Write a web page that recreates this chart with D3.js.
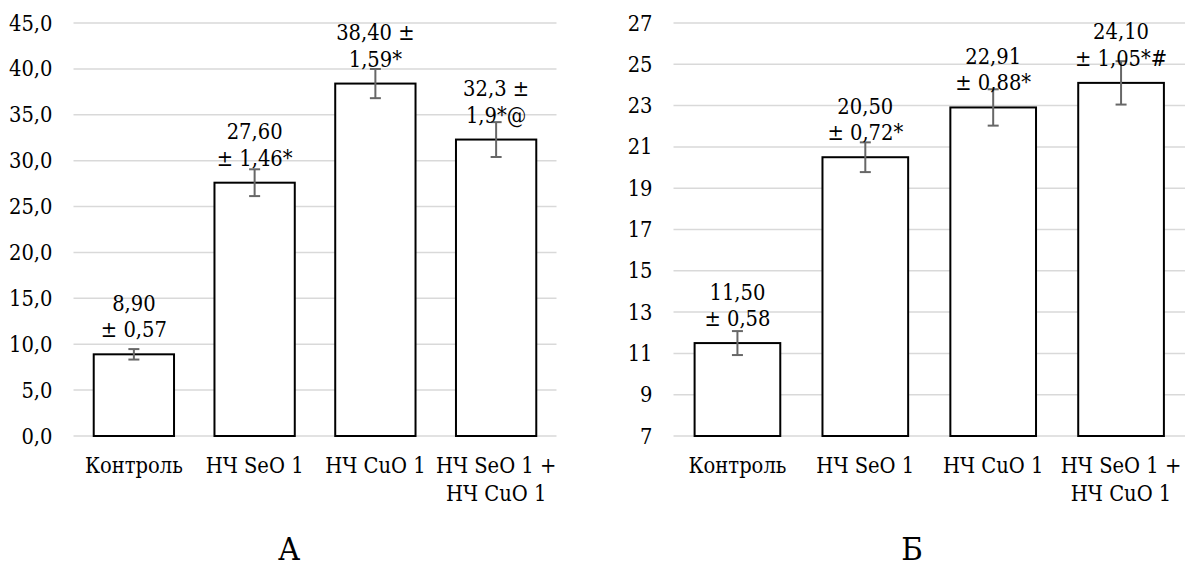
<!DOCTYPE html>
<html>
<head>
<meta charset="utf-8">
<script src="https://cdn.jsdelivr.net/npm/d3@7/dist/d3.min.js"></script>
<style>
html,body{margin:0;padding:0;background:#fff;}
svg{display:block;}
</style>
</head>
<body>
<svg id="chart" width="1187" height="567"></svg>
<script>
// ---- data ----
const categories = [["Контроль"], ["НЧ SeO 1"], ["НЧ CuO 1"], ["НЧ SeO 1 +", "НЧ CuO 1"]];
const valuesA = [8.90, 27.60, 38.40, 32.3];
const errorsA = [0.57, 1.46, 1.59, 1.9];
const labelsA = [["8,90", "± 0,57"], ["27,60", "± 1,46*"], ["38,40 ±", "1,59*"], ["32,3 ±", "1,9*@"]];
const ticksA = [0, 5, 10, 15, 20, 25, 30, 35, 40, 45];
const valuesB = [11.50, 20.50, 22.91, 24.10];
const errorsB = [0.58, 0.72, 0.88, 1.05];
const labelsB = [["11,50", "± 0,58"], ["20,50", "± 0,72*"], ["22,91", "± 0,88*"], ["24,10", "± 1,05*#"]];
const ticksB = [7, 9, 11, 13, 15, 17, 19, 21, 23, 25, 27];
const panelTitles = ["А", "Б"];

const FONT = "'DejaVu Serif', serif";
const svg = d3.select("#chart");
const locale = d3.formatLocale({decimal: ",", thousands: " ", grouping: [3], currency: ["", ""]});

function txt(g) {
  return g.append("text").style("font-family", FONT).style("font-stretch", "condensed").attr("fill", "#000");
}

// fit font size so that "Контроль" measures ~98px like the reference
const probe = txt(svg).style("font-size", "100px").text("Контроль");
const probeW = probe.node().getComputedTextLength();
probe.remove();
const FS = Math.min(24, 98 / probeW * 100);

function panel(cfg) {
  const g = svg.append("g");
  const x = d3.scaleBand().domain(d3.range(categories.length))
    .range([cfg.x0, cfg.x1]).paddingInner(cfg.pad).paddingOuter(cfg.pad / 2);
  const y = d3.scaleLinear().domain([cfg.ymin, cfg.ymax]).range([436, 23]);

  g.selectAll("line.grid").data(cfg.ticks).join("line")
    .attr("x1", cfg.x0).attr("x2", cfg.x1)
    .attr("y1", d => y(d)).attr("y2", d => y(d))
    .attr("stroke", "#d9d9d9").attr("stroke-width", 1.5);

  const fmt = locale.format(cfg.fmt);
  cfg.ticks.forEach(d => {
    txt(g).attr("x", cfg.x0 - 21).attr("y", y(d)).attr("dy", "0.35em")
      .attr("text-anchor", "end").style("font-size", FS + "px").text(fmt(d));
  });

  g.selectAll("rect.bar").data(cfg.values).join("rect")
    .attr("x", (d, i) => x(i)).attr("width", x.bandwidth())
    .attr("y", d => y(d)).attr("height", d => y(cfg.ymin) - y(d))
    .attr("fill", "#fff").attr("stroke", "#000").attr("stroke-width", 2);

  const cx = i => x(i) + x.bandwidth() / 2;
  const eb = g.selectAll("g.err").data(cfg.values).join("g").attr("stroke", "#676767").attr("stroke-width", 2);
  eb.append("line").attr("x1", (d, i) => cx(i)).attr("x2", (d, i) => cx(i))
    .attr("y1", (d, i) => y(d + cfg.errors[i])).attr("y2", (d, i) => y(d - cfg.errors[i]));
  eb.append("line").attr("x1", (d, i) => cx(i) - 5.5).attr("x2", (d, i) => cx(i) + 5.5)
    .attr("y1", (d, i) => y(d + cfg.errors[i])).attr("y2", (d, i) => y(d + cfg.errors[i]));
  eb.append("line").attr("x1", (d, i) => cx(i) - 5.5).attr("x2", (d, i) => cx(i) + 5.5)
    .attr("y1", (d, i) => y(d - cfg.errors[i])).attr("y2", (d, i) => y(d - cfg.errors[i]));

  cfg.values.forEach((v, i) => {
    const lines = cfg.labels[i];
    const base = y(v) - 17;
    lines.forEach((t, j) => {
      txt(g).attr("x", cx(i)).attr("y", base - (lines.length - 1 - j) * 26.5)
        .attr("text-anchor", "middle").style("font-size", FS + "px").text(t);
    });
  });

  categories.forEach((lines, i) => {
    lines.forEach((t, j) => {
      txt(g).attr("x", cx(i)).attr("y", 473 + j * 28)
        .attr("text-anchor", "middle").style("font-size", FS + "px").text(t);
    });
  });

  txt(g).attr("x", cfg.titleX).attr("y", 560)
    .attr("text-anchor", "middle").style("font-size", (FS * 1.5) + "px").text(cfg.title);
}

panel({x0: 73.5, x1: 556.5, pad: 0.335, ymin: 0, ymax: 45, ticks: ticksA, fmt: ".1f",
       values: valuesA, errors: errorsA, labels: labelsA, title: panelTitles[0], titleX: 289});
panel({x0: 673.5, x1: 1185, pad: 0.33, ymin: 7, ymax: 27, ticks: ticksB, fmt: "d",
       values: valuesB, errors: errorsB, labels: labelsB, title: panelTitles[1], titleX: 912});
</script>
</body>
</html>
